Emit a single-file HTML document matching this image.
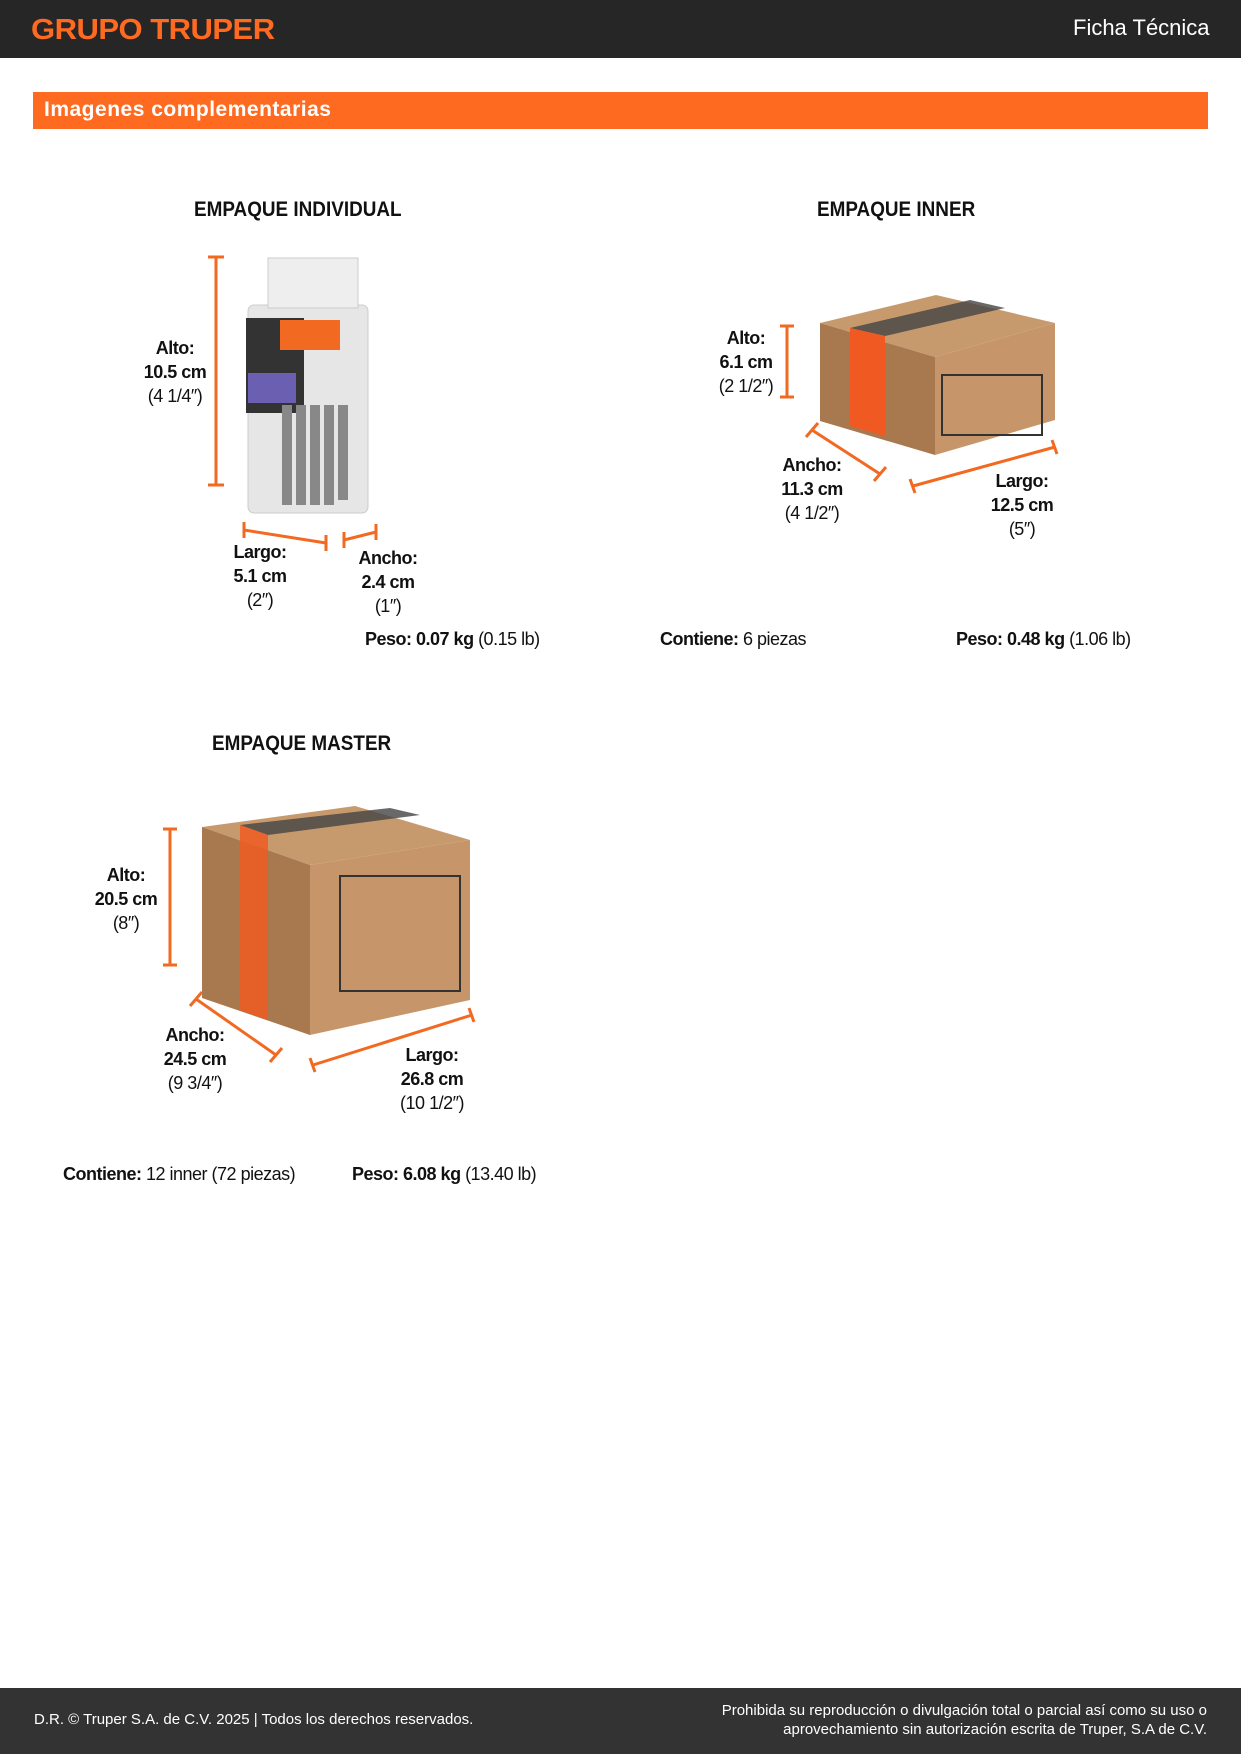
<!DOCTYPE html>
<html><head><meta charset="utf-8"><style>
body{margin:0;width:1241px;height:1754px;position:relative;background:#fff;font-family:"Liberation Sans",sans-serif;overflow:hidden}
.a{position:absolute}
.t{position:absolute;font-weight:bold;font-size:18px;color:#111;text-align:center;line-height:24px;letter-spacing:-0.5px}
.n{font-weight:normal}
.h{position:absolute;font-weight:bold;font-size:21px;color:#111;transform:scaleX(0.9);transform-origin:0 0}
</style></head><body>
<div class="a" style="left:0;top:0;width:1241px;height:58px;background:#262626"></div>
<div class="a" style="left:31px;top:14px;font-size:29px;font-weight:bold;color:#ff6a21;letter-spacing:-0.5px;transform:scaleX(1.07);transform-origin:0 0">GRUPO TRUPER</div>
<div class="a" style="left:1073px;top:15px;font-size:22px;color:#fff">Ficha Técnica</div>
<div class="a" style="left:33px;top:92px;width:1175px;height:37px;background:#ff6a21"></div>
<div class="a" style="left:44px;top:98px;font-size:21px;font-weight:bold;color:#fff;letter-spacing:0.5px">Imagenes complementarias</div>

<div class="h" style="left:194px;top:198px">EMPAQUE INDIVIDUAL</div>
<div class="h" style="left:817px;top:198px">EMPAQUE INNER</div>
<div class="h" style="left:212px;top:732px">EMPAQUE MASTER</div>

<svg class="a" style="left:0;top:0" width="1241" height="1200">
<g stroke="#f26a21" stroke-width="3" fill="none">
<path d="M216 257V485M208 257h16M208 485h16"/>
<path d="M244 530L326 543M244 522v16M326 535v16"/>
<path d="M344 540L376 532M344 532v16M376 524v16"/>
<path d="M787 326V397M780 326h14M780 397h14"/>
<path d="M812 430L880 474M806 437l12-14M874 481l12-14"/>
<path d="M913 486L1055 447M910 479l5 14M1052 440l5 14"/>
<path d="M170 829V965M163 829h14M163 965h14"/>
<path d="M196 999L276 1055M190 1006l12-14M270 1062l12-14"/>
<path d="M313 1065L472 1015M310 1058l5 14M469 1008l5 14"/>
</g>
<rect x="248" y="305" width="120" height="208" rx="6" fill="#e6e6e6" stroke="#ccc"/>
<path d="M268 258h90v50h-90z" fill="#eee" stroke="#ccc"/>
<rect x="246" y="318" width="58" height="95" fill="#333"/>
<path d="M280 320h60v30h-60z" fill="#f26a21"/>
<rect x="248" y="373" width="48" height="30" fill="#6a5fb0"/>
<g fill="#888"><rect x="282" y="405" width="10" height="100"/><rect x="296" y="405" width="10" height="100"/><rect x="310" y="405" width="10" height="100"/><rect x="324" y="405" width="10" height="100"/><rect x="338" y="405" width="10" height="95"/></g>
<path d="M820 323L936 295L1055 323L935 357Z" fill="#c79a6e"/>
<path d="M820 323L935 357L935 455L820 421Z" fill="#a8784f"/>
<path d="M935 357L1055 323L1055 420L935 455Z" fill="#c6966a"/>
<path d="M850 328L970 300L1005 308L885 336Z" fill="#444" opacity=".8"/>
<path d="M850 328L885 336L885 436L850 426Z" fill="#f05a22"/>
<rect x="942" y="375" width="100" height="60" fill="none" stroke="#333" stroke-width="2"/>
<path d="M202 827L355 806L470 840L310 865Z" fill="#c79a6e"/>
<path d="M202 827L310 865L310 1035L202 998Z" fill="#a8784f"/>
<path d="M310 865L470 840L470 1000L310 1035Z" fill="#c6966a"/>
<path d="M240 825L390 808L420 815L268 835Z" fill="#444" opacity=".8"/>
<path d="M240 825L268 835L268 1020L240 1010Z" fill="#f05a22" opacity=".85"/>
<rect x="340" y="876" width="120" height="115" fill="none" stroke="#333" stroke-width="2"/>
</svg>

<div class="t" style="left:135px;top:336px;width:80px">Alto:<br>10.5 cm<br><span class="n">(4 1/4″)</span></div>
<div class="t" style="left:220px;top:540px;width:80px">Largo:<br>5.1 cm<br><span class="n">(2″)</span></div>
<div class="t" style="left:348px;top:546px;width:80px">Ancho:<br>2.4 cm<br><span class="n">(1″)</span></div>
<div class="t" style="left:365px;top:627px;text-align:left">Peso: 0.07 kg <span class="n">(0.15 lb)</span></div>

<div class="t" style="left:706px;top:326px;width:80px">Alto:<br>6.1 cm<br><span class="n">(2 1/2″)</span></div>
<div class="t" style="left:772px;top:453px;width:80px">Ancho:<br>11.3 cm<br><span class="n">(4 1/2″)</span></div>
<div class="t" style="left:982px;top:469px;width:80px">Largo:<br>12.5 cm<br><span class="n">(5″)</span></div>
<div class="t" style="left:660px;top:627px;text-align:left">Contiene: <span class="n">6 piezas</span></div>
<div class="t" style="left:956px;top:627px;text-align:left">Peso: 0.48 kg <span class="n">(1.06 lb)</span></div>

<div class="t" style="left:86px;top:863px;width:80px">Alto:<br>20.5 cm<br><span class="n">(8″)</span></div>
<div class="t" style="left:155px;top:1023px;width:80px">Ancho:<br>24.5 cm<br><span class="n">(9 3/4″)</span></div>
<div class="t" style="left:392px;top:1043px;width:80px">Largo:<br>26.8 cm<br><span class="n">(10 1/2″)</span></div>
<div class="t" style="left:63px;top:1162px;text-align:left">Contiene: <span class="n">12 inner (72 piezas)</span></div>
<div class="t" style="left:352px;top:1162px;text-align:left">Peso: 6.08 kg <span class="n">(13.40 lb)</span></div>

<div class="a" style="left:0;top:1688px;width:1241px;height:66px;background:#333"></div>
<div class="a" style="left:34px;top:1711px;font-size:15px;color:#fff">D.R. © Truper S.A. de C.V. 2025 | Todos los derechos reservados.</div>
<div class="a" style="right:34px;top:1701px;font-size:15px;color:#fff;text-align:right;line-height:19px">Prohibida su reproducción o divulgación total o parcial así como su uso o<br>aprovechamiento sin autorización escrita de Truper, S.A de C.V.</div>
</body></html>
